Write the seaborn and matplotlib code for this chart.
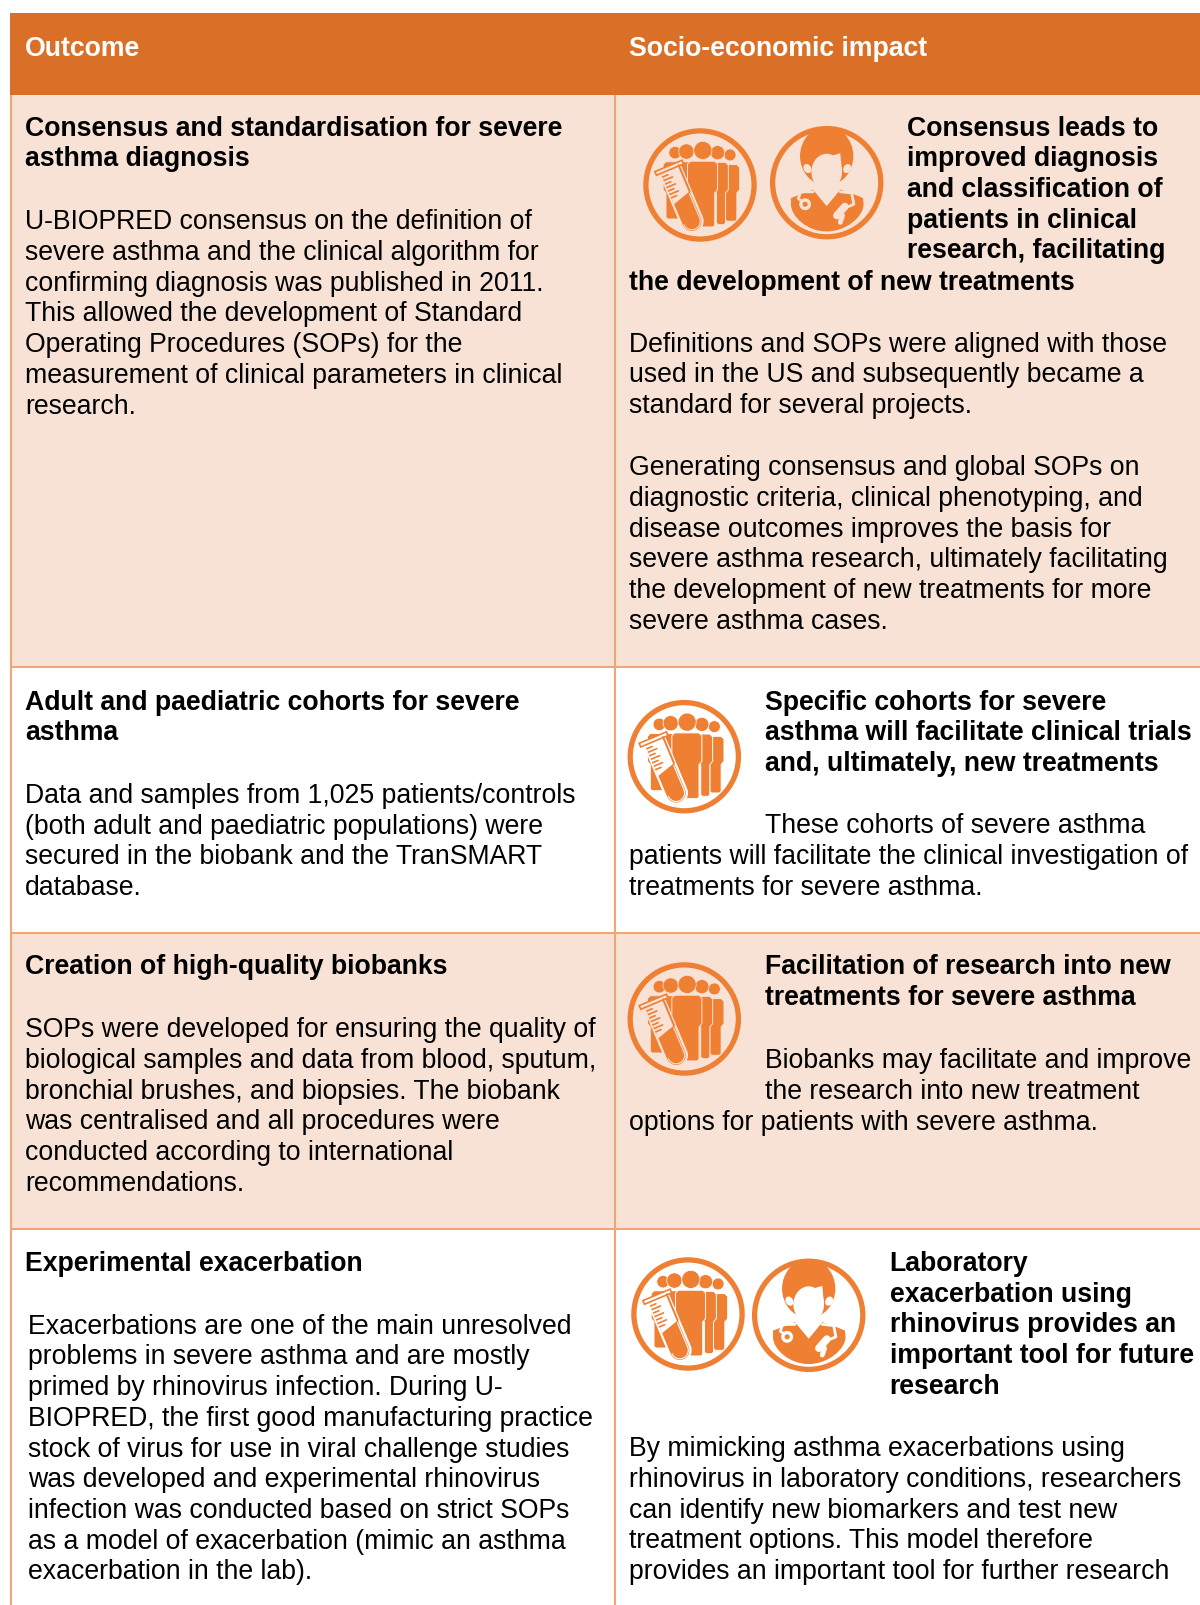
import numpy as np
import seaborn as sns
import matplotlib.pyplot as plt
from matplotlib.colors import ListedColormap
from matplotlib.patches import Circle, Ellipse, PathPatch, Polygon
from matplotlib.path import Path
from matplotlib.transforms import Affine2D

header_labels = ['Outcome', 'Socio-economic impact']

# row bands: 0 header, 1 tinted, 2 white
row_heights = [82, 572, 266, 296, 376]
row_shades = [0, 1, 2, 1, 2]

outcome_titles = [
    ['Consensus and standardisation for severe', 'asthma diagnosis'],
    ['Adult and paediatric cohorts for severe', 'asthma'],
    ['Creation of high-quality biobanks'],
    ['Experimental exacerbation'],
]
outcome_bodies = [
    ['U-BIOPRED consensus on the definition of', 'severe asthma and the clinical algorithm for',
     'confirming diagnosis was published in 2011.', 'This allowed the development of Standard',
     'Operating Procedures (SOPs) for the', 'measurement of clinical parameters in clinical', 'research.'],
    ['Data and samples from 1,025 patients/controls', '(both adult and paediatric populations) were',
     'secured in the biobank and the TranSMART', 'database.'],
    ['SOPs were developed for ensuring the quality of', 'biological samples and data from blood, sputum,',
     'bronchial brushes, and biopsies. The biobank', 'was centralised and all procedures were',
     'conducted according to international', 'recommendations.'],
    ['Exacerbations are one of the main unresolved', 'problems in severe asthma and are mostly',
     'primed by rhinovirus infection. During U-', 'BIOPRED, the first good manufacturing practice',
     'stock of virus for use in viral challenge studies', 'was developed and experimental rhinovirus',
     'infection was conducted based on strict SOPs', 'as a model of exacerbation (mimic an asthma',
     'exacerbation in the lab).'],
]

impact_1_head = ['Consensus leads to', 'improved diagnosis', 'and classification of', 'patients in clinical', 'research, facilitating']
impact_1_head_end = ['the development of new treatments']
impact_1_body_a = ['Definitions and SOPs were aligned with those', 'used in the US and subsequently became a',
                   'standard for several projects.']
impact_1_body_b = ['Generating consensus and global SOPs on', 'diagnostic criteria, clinical phenotyping, and',
                   'disease outcomes improves the basis for', 'severe asthma research, ultimately facilitating',
                   'the development of new treatments for more', 'severe asthma cases.']
impact_2_head = ['Specific cohorts for severe', 'asthma will facilitate clinical trials', 'and, ultimately, new treatments']
impact_2_body_a = ['These cohorts of severe asthma']
impact_2_body_b = ['patients will facilitate the clinical investigation of', 'treatments for severe asthma.']
impact_3_head = ['Facilitation of research into new', 'treatments for severe asthma']
impact_3_body_a = ['Biobanks may facilitate and improve', 'the research into new treatment']
impact_3_body_b = ['options for patients with severe asthma.']
impact_4_head = ['Laboratory', 'exacerbation using', 'rhinovirus provides an', 'important tool for future', 'research']
impact_4_body = ['By mimicking asthma exacerbations using', 'rhinovirus in laboratory conditions, researchers',
                 'can identify new biomarkers and test new', 'treatment options. This model therefore',
                 'provides an important tool for further research']

HEADER = '#DA6F28'
TINT = '#F7E2D5'
LINE = '#EFA676'
ICON = '#EE7F33'
FS = 19.15
STEP = 30.7

sns.set_theme(style='white')
plt.rcParams['font.family'] = ['Liberation Sans', 'DejaVu Sans']

W, H = 1200, 1605
fig = plt.figure(figsize=(W / 100, H / 100), dpi=100, facecolor='white')

# table bands, one heatmap row per pixel
band_ax = fig.add_axes([10 / W, 0, (W - 10) / W, (H - 13) / H])
bands = np.repeat(row_shades, row_heights).reshape(-1, 1)
sns.heatmap(bands, cmap=ListedColormap([HEADER, TINT, 'white']), vmin=0, vmax=2,
            cbar=False, xticklabels=False, yticklabels=False, ax=band_ax)

ax = fig.add_axes([0, 0, 1, 1], facecolor='none')
ax.set_xlim(0, W)
ax.set_ylim(H, 0)
ax.axis('off')


def draw_lines(lines, x, y, bold=False, color='black'):
    for i, line in enumerate(lines):
        ax.text(x, y + i * STEP, line, fontsize=FS, color=color, va='baseline', ha='left',
                fontweight='bold' if bold else 'normal')


def ring(cx, cy, r):
    ax.add_patch(Circle((cx, cy), r - 2.6, fc='none', ec=ICON, lw=3.8))


def people_icon(cx, cy, r, bg):
    ring(cx, cy, r)
    t = Affine2D().scale(r).translate(cx, cy) + ax.transData
    # silhouettes: shoulders, step at the hip, legs
    for x0, x1, y0, y1 in [(.40, .70, -.36, .64), (.24, .50, -.40, .70), (-.65, -.10, -.41, .60), (-.22, .31, -.42, .74)]:
        body = [[x0 + .05, y0], [x1 - .05, y0], [x1, y0 + .05], [x1, .08], [x1 - .05, .14], [x1 - .05, y1 - .03],
                [x1 - .08, y1], [x0 + .08, y1], [x0 + .05, y1 - .03], [x0 + .05, .14], [x0, .08], [x0, y0 + .05]]
        ax.add_patch(Polygon(body, closed=True, fc=ICON, ec=bg, lw=0.7, joinstyle='round', transform=t))
    for hx, hy, hr in [(-.44, -.57, .11), (.53, -.53, .105), (.31, -.57, .125), (-.24, -.59, .135), (.05, -.61, .16)]:
        ax.add_patch(Circle((hx, hy), hr, fc=ICON, ec=bg, lw=0.5, transform=t))
    # test tube in front of the group
    tt = Affine2D().rotate_deg(-22.8).translate(-.54, -.30).scale(r).translate(cx, cy) + ax.transData
    hw = .19
    length = 1.21
    arc = np.linspace(np.pi, 0, 20)
    tube = np.vstack([[[-hw, 0]], np.c_[hw * np.cos(arc), length - hw + hw * np.sin(arc)], [[hw, 0]]])
    ax.add_patch(Polygon(tube, closed=True, fc=ICON, ec=bg, lw=1.6, transform=tt))
    ax.add_patch(Polygon([[-hw + .02, .02], [hw - .02, .02], [hw - .02, .52], [-hw + .02, .62]], closed=True, fc=bg, ec='none', transform=tt))
    ax.add_patch(Polygon([[-.26, -.04], [.26, -.04], [.26, .03], [-.26, .03]], closed=True, fc=bg, ec=ICON, lw=1.2, transform=tt))
    for k, ty in enumerate(np.linspace(.10, .50, 7)):
        ax.plot([-hw + .02, -hw + (.18 if k % 2 else .12)], [ty, ty], color=ICON, lw=1.2, transform=tt)
    ax.plot([hw - .02, hw - .02], [.02, .52], color=ICON, lw=1.4, transform=tt)
    inner = np.c_[(hw - .04) * np.cos(arc), length - hw + (hw - .04) * np.sin(arc)]
    ax.plot(inner[:, 0], inner[:, 1], color=bg, lw=0.8, transform=tt)
    ax.plot([hw - .04, hw - .04], [.56, length - hw], color=bg, lw=0.8, transform=tt)


def doctor_icon(cx, cy, r, bg):
    ring(cx, cy, r)
    t = Affine2D().scale(r).translate(cx, cy) + ax.transData
    # hair
    ax.add_patch(Ellipse((0, -.47), .94, 1.04, fc=ICON, ec='none', transform=t))
    # shoulders and coat
    verts = [(-.63, .38), (-.63, .27), (-.50, .22), (-.24, .12), (0, .41), (.24, .12), (.52, .22), (.64, .27),
             (.65, .38), (.65, .60), (.34, .86), (0, .86), (-.34, .86), (-.63, .60), (-.63, .38)]
    codes = [Path.MOVETO] + [Path.LINETO] * 8 + [Path.CURVE4] * 6
    ax.add_patch(PathPatch(Path(verts, codes), fc=ICON, ec='none', transform=t))
    # neck, face, ears
    ax.add_patch(Polygon([[-.20, .06], [.20, .06], [.24, .12], [0, .41], [-.24, .12]], closed=True, fc=bg, ec='none', transform=t))
    ax.add_patch(Ellipse((0, -.19), .54, .64, fc=bg, ec='none', transform=t))
    ax.add_patch(Polygon([[-.27, -.20], [-.20, -.27], [-.06, -.43], [.24, -.52], [.27, -.20]], closed=True, fc=bg, ec='none', transform=t))
    ax.add_patch(Ellipse((-.34, -.25), .13, .17, angle=-30, fc=bg, ec='none', transform=t))
    ax.add_patch(Ellipse((.36, -.25), .13, .17, angle=30, fc=bg, ec='none', transform=t))
    # stethoscope
    ax.add_patch(Circle((-.38, .38), .075, fc=ICON, ec=bg, lw=2.4, transform=t))
    ax.plot([-.45, -.50, -.46, -.24], [.32, .28, .16, .16], color=bg, lw=2.0, transform=t)
    ax.plot([.24, .44, .48, .24], [.16, .18, .38, .48], color=bg, lw=2.0, transform=t)
    ax.plot([.18, .32], [.58, .42], color=bg, lw=5.5, solid_capstyle='round', transform=t)
    ax.plot([.24, .28], [.70, .58], color=bg, lw=3.5, solid_capstyle='round', transform=t)


# header text
draw_lines([header_labels[0]], 25, 56, bold=True, color='white')
draw_lines([header_labels[1]], 629, 56, bold=True, color='white')

# grid lines
for yy in [667, 933, 1229]:
    ax.plot([11, W], [yy, yy], color=LINE, lw=1.5, solid_capstyle='butt')
ax.plot([11, 11], [95, H], color=LINE, lw=1.5, solid_capstyle='butt')
ax.plot([615, 615], [95, H], color=LINE, lw=1.5, solid_capstyle='butt')

# outcome column
title_y = [135.5, 709.5, 974.5, 1271]
body_y = [229.3, 802.8, 1037.3, 1333.8]
body_x = [25, 25, 25, 28]
for i in range(4):
    draw_lines(outcome_titles[i], 25, title_y[i], bold=True)
    draw_lines(outcome_bodies[i], body_x[i], body_y[i])

# impact column
draw_lines(impact_1_head, 907, 135.5, bold=True)
draw_lines(impact_1_head_end, 629, 290, bold=True)
draw_lines(impact_1_body_a, 629, 351.8)
draw_lines(impact_1_body_b, 629, 475.3)

draw_lines(impact_2_head, 765, 709.5, bold=True)
draw_lines(impact_2_body_a, 765, 833.3)
draw_lines(impact_2_body_b, 629, 864.3)

draw_lines(impact_3_head, 765, 974.5, bold=True)
draw_lines(impact_3_body_a, 765, 1068.3)
draw_lines(impact_3_body_b, 629, 1129.8)

draw_lines(impact_4_head, 889.5, 1271, bold=True)
draw_lines(impact_4_body, 629, 1456.3)

# icons
people_icon(700, 185, 56.7, TINT)
doctor_icon(826.7, 182.7, 56.7, TINT)
people_icon(684.3, 756.7, 56.7, 'white')
people_icon(684.3, 1019, 56.7, TINT)
people_icon(688, 1314, 56.7, 'white')
doctor_icon(808.7, 1315.3, 56.7, 'white')

fig.savefig('out.png', dpi=100, facecolor='white')
